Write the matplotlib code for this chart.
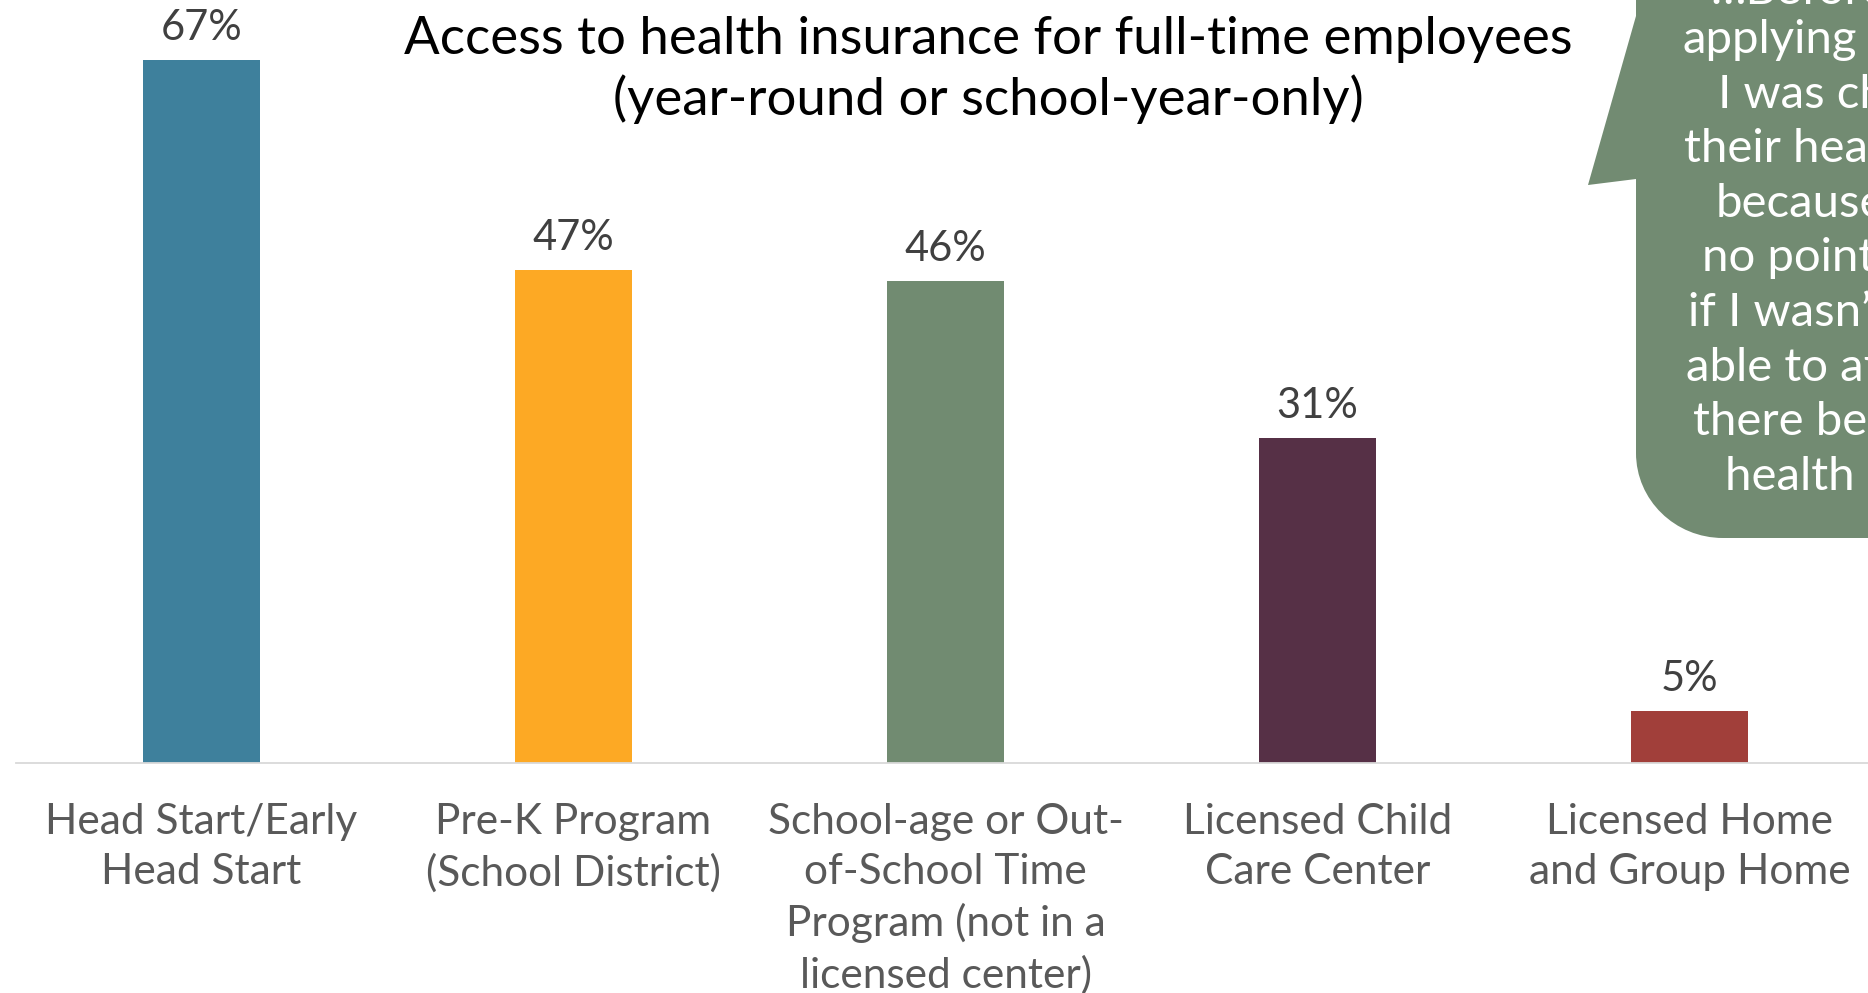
import matplotlib
matplotlib.use("Agg")
import matplotlib.pyplot as plt
from matplotlib.path import Path
from matplotlib.patches import PathPatch

# ---- data -------------------------------------------------------------
categories = [
    "Head Start/Early\nHead Start",
    "Pre-K Program\n(School District)",
    "School-age or Out-\nof-School Time\nProgram (not in a\nlicensed center)",
    "Licensed Child\nCare Center",
    "Licensed Home\nand Group Home",
]
values = [67, 47, 46, 31, 5]
bar_colors = ["#3E809C", "#FDA924", "#718B71", "#563046", "#A13F3A"]

title_text = "Access to health insurance for full-time employees\n(year-round or school-year-only)"

quote_lines = [
    "\u2026Before",
    "applying",
    "I was checking",
    "their health",
    "because",
    "no point",
    "if I wasn\u2019t",
    "able to afford",
    "there being",
    "health insurance",
]
quote_x = [1710, 1683, 1718, 1684, 1716, 1702, 1688, 1686, 1693, 1725]

# ---- figure -----------------------------------------------------------
W, H = 1868, 993
fig = plt.figure(figsize=(W / 100, H / 100), dpi=100)
FONT = ["Lato", "DejaVu Sans"]


def fx(x):
    return x / W


def fy(y):
    return 1 - y / H


ax = fig.add_axes([fx(15.5), fy(763), 1860 / W, 755 / H])
ax.set_xlim(-0.5, 4.5)
ax.set_ylim(0, 72)

x = list(range(len(values)))
ax.bar(x, values, width=0.315, color=bar_colors, zorder=2)

for s in ["top", "right", "left"]:
    ax.spines[s].set_visible(False)
ax.spines["bottom"].set_color("#D9D9D9")
ax.spines["bottom"].set_linewidth(1.3)
ax.set_yticks([])
ax.set_xticks(x, categories)
ax.tick_params(axis="x", length=0, pad=28.7, labelsize=30.5, labelcolor="#595959")
for lbl in ax.get_xticklabels():
    lbl.set_fontfamily(FONT)
    lbl.set_linespacing(1.38)

for xi, v in zip(x, values):
    ax.annotate(f"{v}%", xy=(xi, v), xytext=(0, 14.4), textcoords="offset points",
                ha="center", va="baseline", fontsize=30, color="#404040",
                family=FONT)

# multi-line text with va="baseline" is anchored on its last line
fig.text(fx(988.5), fy(115), title_text, ha="center", va="baseline",
         fontsize=38, color="#000000", family=FONT, linespacing=1.27)

# ---- speech bubble ------------------------------------------------------
xl, yb, rx, ry = 1636, 538, 87, 85
k = 0.5523
pts = [
    (1900, -10), (xl, -10), (xl, 16), (1588, 185), (xl, 179), (xl, yb - ry),
    (xl, yb - ry + k * ry), (xl + rx - k * rx, yb), (xl + rx, yb),
    (1900, yb), (1900, -10),
]
codes = [Path.MOVETO, Path.LINETO, Path.LINETO, Path.LINETO, Path.LINETO, Path.LINETO,
         Path.CURVE4, Path.CURVE4, Path.CURVE4, Path.LINETO, Path.CLOSEPOLY]
bubble = Path([(fx(px), fy(py)) for px, py in pts], codes)
fig.add_artist(PathPatch(bubble, transform=fig.transFigure, facecolor="#728B72",
                         edgecolor="none", zorder=3))

base0 = 4
for i, (line, lx) in enumerate(zip(quote_lines, quote_x)):
    by = base0 if i == 0 else 53 + 54.6 * (i - 1)
    fig.text(fx(lx), fy(by), line, ha="left", va="baseline", fontsize=34,
             color="white", family=FONT, zorder=4)

fig.savefig("out.png", dpi=100)
